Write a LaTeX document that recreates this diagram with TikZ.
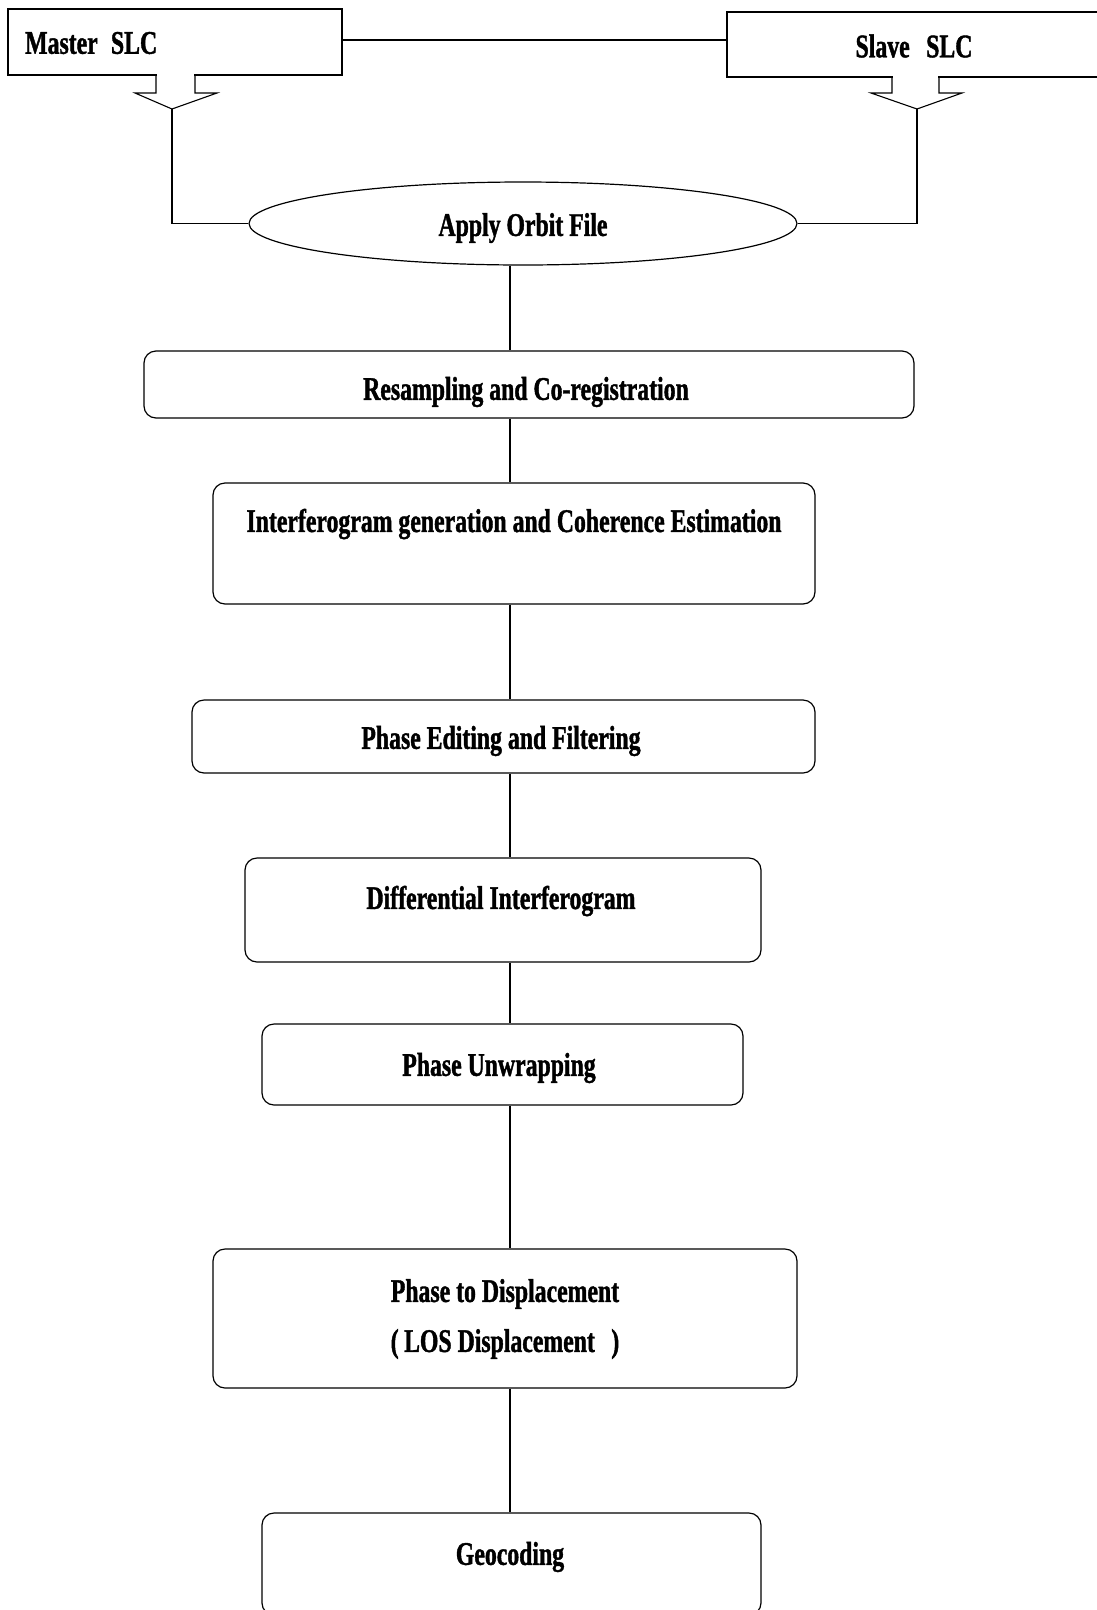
\documentclass[tikz,border=0pt]{standalone}
\usepackage{fontspec}
\newfontfamily\lblfont[FakeStretch=0.72,FakeBold=1.2]{Liberation Serif}
\usetikzlibrary{shapes.geometric}
\tikzset{
  lbl/.style={font=\lblfont\bfseries\fontsize{33}{50}\selectfont, inner sep=0pt, align=center},
  stepbox/.style={draw, rounded corners=12pt, line width=1.2pt, inner sep=0pt},
  conn/.style={line width=1.1pt},
}
\begin{document}
\begin{tikzpicture}[x=1pt,y=-1pt]
\useasboundingbox (0,0) rectangle (1096,1610);
\fill[white] (0,0) rectangle (1096,1610);
% source boxes
\node[draw, line width=1.2pt, minimum width=334pt, minimum height=66pt, inner sep=0pt] (master) at (175,42) {};
\node[draw, line width=1.2pt, minimum width=373pt, minimum height=65pt, inner sep=0pt] (slave) at (913.5,44.5) {};
\node[lbl, anchor=west] (mastertxt) at (25,43) {Master\hspace{0.4em}SLC};
\node[lbl] (slavetxt) at (914,46) {Slave\hspace{0.5em}SLC};
% callout arrows
\fill[white] (156.6,73) rectangle (194.4,93);
\draw[line width=1.1pt, line join=miter] (156,75) -- (156,93) -- (135,93) -- (172,109) -- (217,93) -- (195,93) -- (195,75);
\fill[white] (892.6,74) rectangle (938.4,93);
\draw[line width=1.1pt, line join=miter] (892,76.5) -- (892,93) -- (871,93) -- (917,109) -- (962,93) -- (939,93) -- (939,76.5);
\coordinate (mtip) at (172,109);
\coordinate (stip) at (917,109);
\coordinate (spine) at (510,0);
% ellipse
\node[draw, ellipse, line width=1.2pt, minimum width=548pt, minimum height=83pt, inner sep=0pt] (ell) at (523,223.5) {};
\node[lbl] (elltxt) at (523,228) {Apply Orbit File};
% step boxes
\node[stepbox, minimum width=770pt, minimum height=67pt] (res) at (529,384.5) {};
\node[lbl] (restxt) at (526,392) {Resampling and Co-registration};
\node[stepbox, minimum width=602pt, minimum height=121pt] (intf) at (514,543.5) {};
\node[lbl] (intftxt) at (514,524) {Interferogram generation and Coherence Estimation};
\node[stepbox, minimum width=623pt, minimum height=73pt] (phed) at (503.5,736.5) {};
\node[lbl] (phedtxt) at (501,741) {Phase Editing and Filtering};
\node[stepbox, minimum width=516pt, minimum height=104pt] (diff) at (503,910) {};
\node[lbl] (difftxt) at (501,901) {Differential Interferogram};
\node[stepbox, minimum width=481pt, minimum height=81pt] (unw) at (502.5,1064.5) {};
\node[lbl] (unwtxt) at (499,1068) {Phase Unwrapping};
\node[stepbox, minimum width=584pt, minimum height=139pt] (p2d) at (505,1318.5) {};
\node[lbl] (p2dtxt) at (505,1319) {Phase to Displacement\\(\,LOS Displacement\hspace{0.5em})};
\node[stepbox, minimum width=499pt, minimum height=102pt] (geo) at (511.5,1564) {};
\node[lbl] (geotxt) at (510,1557) {Geocoding};
% connectors
\draw[conn] ([yshift=2pt]master.east) -- ([yshift=2pt]master.east -| slave.west);
\draw[conn] (mtip) |- (ell.west);
\draw[conn] (stip) |- (ell.east);
\draw[conn] (ell.south -| spine) -- (res.north -| spine);
\draw[conn] (res.south -| spine) -- (intf.north -| spine);
\draw[conn] (intf.south -| spine) -- (phed.north -| spine);
\draw[conn] (phed.south -| spine) -- (diff.north -| spine);
\draw[conn] (diff.south -| spine) -- (unw.north -| spine);
\draw[conn] (unw.south -| spine) -- (p2d.north -| spine);
\draw[conn] (p2d.south -| spine) -- (geo.north -| spine);
\end{tikzpicture}
\end{document}
